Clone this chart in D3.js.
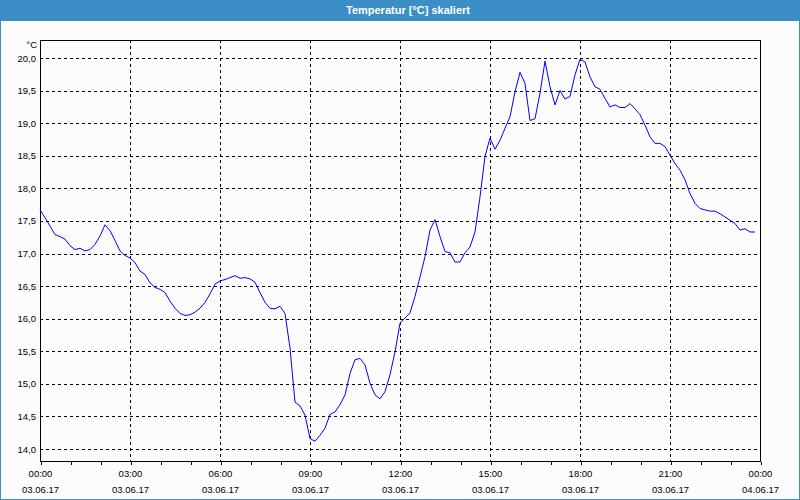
<!DOCTYPE html>
<html>
<head>
<meta charset="utf-8">
<script src="https://cdn.jsdelivr.net/npm/d3@7"></script>
<style>
  html, body { margin: 0; padding: 0; background: #fbfcfb; }
  svg { display: block; }
  text { font-family: "Liberation Sans", Arial, sans-serif; }
</style>
</head>
<body>
<script>
// ---- data ----
const title = "Temperatur [°C] skaliert";
const unitLabel = "°C";
// minutes since 03.06.17 00:00, 10-minute samples
const minutes = [
  0,10,20,30,40,50,60,70,80,90,100,110,120,130,140,150,160,170,180,190,200,210,220,230,240,250,260,270,280,290,
  300,310,320,330,340,350,360,370,380,390,400,410,420,430,440,450,460,470,480,490,500,510,520,530,540,550,560,570,580,590,
  600,610,620,630,640,650,660,670,680,690,700,710,720,730,740,750,760,770,780,790,800,810,820,830,840,850,860,870,880,890,
  900,910,920,930,940,950,960,970,980,990,1000,1010,1020,1030,1040,1050,1060,1070,1080,1090,1100,1110,1120,1130,1140,1150,1160,1170,1180,1190,
  1200,1210,1220,1230,1240,1250,1260,1270,1280,1290,1300,1310,1320,1330,1340,1350,1360,1370,1380,1390,1400,1410,1420,1430
];
const temperature = [
  17.67,17.55,17.42,17.29,17.26,17.22,17.12,17.06,17.08,17.04,17.06,17.14,17.27,17.44,17.35,17.20,17.04,16.97,16.93,16.86,16.73,16.68,16.55,16.48,16.45,16.40,16.27,16.16,16.08,16.05,
  16.06,16.10,16.16,16.25,16.38,16.53,16.58,16.60,16.63,16.66,16.62,16.63,16.61,16.56,16.40,16.25,16.16,16.15,16.19,16.08,15.55,14.72,14.66,14.52,14.16,14.12,14.21,14.32,14.53,14.57,
  14.68,14.83,15.16,15.37,15.39,15.29,15.01,14.83,14.77,14.88,15.14,15.49,15.93,16.01,16.09,16.34,16.64,16.95,17.36,17.52,17.26,17.03,17.01,16.87,16.87,17.01,17.10,17.33,17.87,18.49,
  18.77,18.60,18.74,18.92,19.10,19.48,19.78,19.61,19.04,19.07,19.46,19.95,19.56,19.28,19.50,19.37,19.41,19.74,19.98,19.94,19.71,19.56,19.52,19.38,19.25,19.28,19.24,19.24,19.30,19.22,
  19.13,18.97,18.79,18.69,18.69,18.64,18.51,18.38,18.28,18.13,17.92,17.77,17.69,17.67,17.65,17.65,17.61,17.56,17.51,17.46,17.36,17.38,17.33,17.33
];
const yTicks = [14.0,14.5,15.0,15.5,16.0,16.5,17.0,17.5,18.0,18.5,19.0,19.5,20.0];
const xLabelHours = [0,3,6,9,12,15,18,21,24];
const xTimeLabels = ["00:00","03:00","06:00","09:00","12:00","15:00","18:00","21:00","00:00"];
const xDateLabels = ["03.06.17","03.06.17","03.06.17","03.06.17","03.06.17","03.06.17","03.06.17","03.06.17","04.06.17"];

// ---- layout ----
const W = 800, H = 500;
const plot = { left: 40, right: 760, top: 40, bottom: 461 };

const svg = d3.select("body").append("svg").attr("width", W).attr("height", H);

svg.append("rect").attr("x", 0).attr("y", 0).attr("width", W).attr("height", H).attr("fill", "#fbfcfb");
// title bar
svg.append("rect").attr("x", 0).attr("y", 0).attr("width", W).attr("height", 21).attr("fill", "#3c8fc6");
svg.append("text").attr("x", 408).attr("y", 14).attr("text-anchor", "middle")
  .attr("fill", "#ffffff").attr("font-size", "11px").attr("font-weight", "bold").text(title);
// window border
svg.append("rect").attr("x", 0.5).attr("y", 0.5).attr("width", W - 1).attr("height", H - 1)
  .attr("fill", "none").attr("stroke", "#3c8fc6").attr("stroke-width", 1);

const x = d3.scaleLinear().domain([0, 24 * 60]).range([plot.left, plot.right]);
const y = d3.scaleLinear().domain([14, 20]).range([449, 58]);

const g = svg.append("g").attr("shape-rendering", "crispEdges");

// horizontal grid
g.selectAll(".hgrid").data(yTicks).enter().append("line")
  .attr("x1", plot.left).attr("x2", plot.right)
  .attr("y1", d => Math.round(y(d)) + 0.5).attr("y2", d => Math.round(y(d)) + 0.5)
  .attr("stroke", "#000").attr("stroke-dasharray", "3,3");
// vertical grid
g.selectAll(".vgrid").data(xLabelHours.slice(1, -1)).enter().append("line")
  .attr("x1", d => Math.round(x(d * 60)) + 0.5).attr("x2", d => Math.round(x(d * 60)) + 0.5)
  .attr("y1", plot.top).attr("y2", plot.bottom)
  .attr("stroke", "#000").attr("stroke-dasharray", "3,3");

// x axis ticks (hourly)
const xAxis = d3.axisBottom(x)
  .tickValues(d3.range(0, 25).map(h => h * 60))
  .tickSize(3).tickSizeOuter(0).tickFormat("");
const ax = svg.append("g").attr("transform", `translate(0.5,${plot.bottom + 0.5})`)
  .attr("shape-rendering", "crispEdges").call(xAxis);
ax.select(".domain").remove();
ax.selectAll(".tick line").attr("stroke", "#000");

// frame
svg.append("rect").attr("x", plot.left + 0.5).attr("y", plot.top + 0.5)
  .attr("width", plot.right - plot.left).attr("height", plot.bottom - plot.top)
  .attr("fill", "none").attr("stroke", "#000").attr("shape-rendering", "crispEdges");

// y labels
svg.selectAll(".ylab").data(yTicks).enter().append("text")
  .attr("x", 36).attr("y", d => y(d) + 3.5).attr("text-anchor", "end")
  .attr("font-size", "9.5px").attr("fill", "#000")
  .text(d => d.toFixed(1).replace(".", ","));
svg.append("text").attr("x", 37).attr("y", 48).attr("text-anchor", "end")
  .attr("font-size", "9.5px").attr("fill", "#000").text(unitLabel);

// x labels
svg.selectAll(".xtime").data(xLabelHours).enter().append("text")
  .attr("x", (d) => x(d * 60) + 0.5).attr("y", 477).attr("text-anchor", "middle")
  .attr("font-size", "9.5px").attr("fill", "#000").text((d, i) => xTimeLabels[i]);
svg.selectAll(".xdate").data(xLabelHours).enter().append("text")
  .attr("x", (d) => x(d * 60) + 0.5).attr("y", 493).attr("text-anchor", "middle")
  .attr("font-size", "9.5px").attr("fill", "#000").text((d, i) => xDateLabels[i]);

// line
const pts = minutes.map((m, i) => [m, temperature[i]]);
svg.append("path").datum(pts)
  .attr("fill", "none").attr("stroke", "#0000ff").attr("stroke-width", 1)
  .attr("d", d3.line().x(d => x(d[0])).y(d => y(d[1])));
</script>
</body>
</html>
